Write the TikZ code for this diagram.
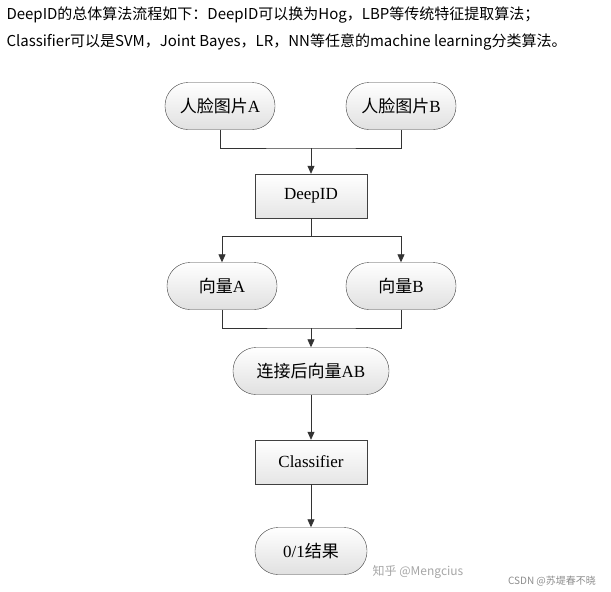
\documentclass[tikz,border=0pt]{standalone}
\usepackage{fontspec}
\setmainfont{Liberation Serif}
\newfontfamily\cjk{Noto Sans CJK SC}
\usetikzlibrary{positioning,arrows.meta,shadings}
\tikzset{
  term/.style={draw=black!75,rounded corners=23pt,minimum width=110pt,minimum height=47pt,
    top color=white,bottom color=black!12,font=\fontsize{17}{19}\selectfont},
  proc/.style={draw=black!75,minimum width=112pt,minimum height=44pt,
    top color=white,bottom color=black!10,font=\fontsize{17}{19}\selectfont},
  flow/.style={draw=black!80,thick},
  arr/.style={flow,-{Triangle[length=8pt,width=7pt]}}
}
\begin{document}
\begin{tikzpicture}[x=1pt,y=-1pt]
  \useasboundingbox (0,0) rectangle (611,592);
  % Titel
  \node[anchor=west,font=\cjk\fontsize{15}{17}\selectfont] (t1) at (3,15) {DeepID的总体算法流程如下：DeepID可以换为Hog，LBP等传统特征提取算法；};
  \node[anchor=west,font=\cjk\fontsize{15}{17}\selectfont] (t2) at (3,42) {Classifier可以是SVM，Joint Bayes，LR，NN等任意的machine learning分类算法。};

  % Knoten
  \node[term] (imgA) at (220,106) {{\cjk 人脸图片}A};
  \node[term] (imgB) at (401,106) {{\cjk 人脸图片}B};
  \node[proc] (deep) at (311,196) {DeepID};
  \node[term] (vecA) at (222,286) {{\cjk 向量}A};
  \node[term] (vecB) at (401,286) {{\cjk 向量}B};
  \node[term,minimum width=156pt] (vecAB) at (311,371) {{\cjk 连接后向量}AB};
  \node[proc] (cls) at (311,462) {Classifier};
  \node[term,minimum width=112pt] (res) at (311,551) {0/1{\cjk 结果}};

  % Verbindungen
  \coordinate (j1) at (311,148);
  \coordinate (j2) at (311,236);
  \coordinate (j3) at (311,328);
  \draw[flow] (imgA.south) |- (j1) -| (imgB.south);
  \draw[arr] (j1) -- (deep.north);
  \draw[flow] (deep.south) -- (j2);
  \draw[arr] (j2) -| (vecA.north);
  \draw[arr] (j2) -| (vecB.north);
  \draw[flow] (vecA.south) |- (j3) -| (vecB.south);
  \draw[arr] (j3) -- (vecAB.north);
  \draw[arr] (vecAB.south) -- (cls.north);
  \draw[arr] (cls.south) -- (res.north);

  % Wasserzeichen
  \node[text=black!35,font=\cjk\fontsize{12}{14}\selectfont] (wm1) at (418,572) {知乎 @Mengcius};
  \node[text=black!45,font=\cjk\fontsize{10}{12}\selectfont] (wm2) at (552,581) {CSDN @苏堤春不晓};
\end{tikzpicture}
\end{document}
